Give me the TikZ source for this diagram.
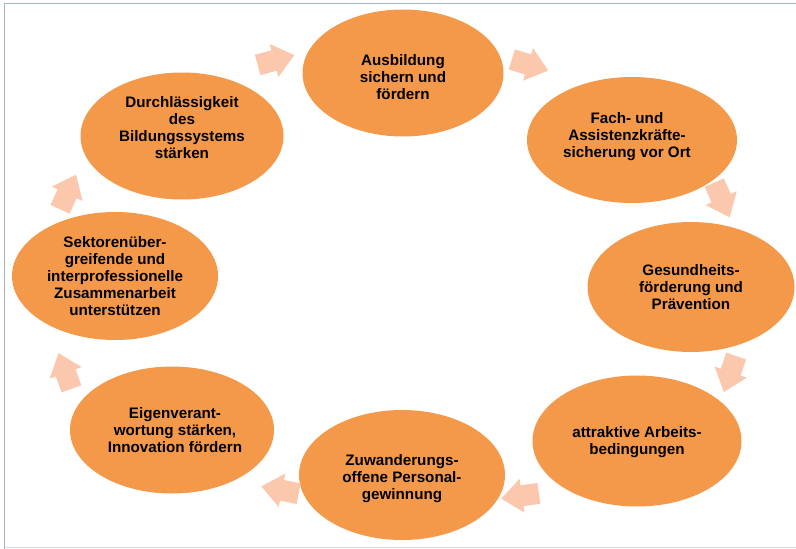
\documentclass[tikz,border=0pt]{standalone}
\usepackage{fontspec}
\setmainfont{Liberation Sans}
\usetikzlibrary{shapes.geometric}
\definecolor{orangefill}{HTML}{F4994A}
\definecolor{peach}{HTML}{FBC7AD}
\definecolor{frametop}{HTML}{A8B6C4}
\definecolor{framebot}{HTML}{D3D8DD}
\tikzset{
  ell/.style={ellipse, fill=orangefill, inner sep=0pt},
  lbl/.style={inner sep=0pt, align=center,
    font=\fontsize{15.2}{17}\selectfont\bfseries, text=black},
  cyclearrow/.style={fill=peach},
}
\newcommand{\blockarrow}[3]{%
  \fill[cyclearrow, shift={(#1,#2)}, rotate=#3]
    (-19,-10.5) -- (-2,-10.5) -- (-2,-17) -- (19,0) -- (-2,17) -- (-2,10.5) -- (-19,10.5) -- cycle;}
\begin{document}
\begin{tikzpicture}[x=1pt,y=1pt]
\useasboundingbox (0,0) rectangle (796,-549);
\fill[white] (0,0) rectangle (796,-549);
% frame
\draw[frametop, line width=1.5pt] (4.5,-549) -- (4.5,-3.5) -- (796,-3.5);
\draw[framebot, line width=1.5pt] (4.5,-547.5) -- (796,-547.5);
% ellipses
\node[ell, minimum width=201pt, minimum height=127pt] (n1) at (403,-73) {};
\node[ell, minimum width=210pt, minimum height=126pt] (n2) at (632,-140) {};
\node[ell, minimum width=207pt, minimum height=130pt] (n3) at (691,-287) {};
\node[ell, minimum width=209pt, minimum height=131pt] (n4) at (637,-441) {};
\node[ell, minimum width=206pt, minimum height=130pt] (n5) at (402,-475) {};
\node[ell, minimum width=204pt, minimum height=127pt] (n6) at (172,-430) {};
\node[ell, minimum width=206pt, minimum height=128pt] (n7) at (115,-276) {};
\node[ell, minimum width=203pt, minimum height=127pt] (n8) at (182,-136) {};
% texts
\node[lbl] (t1) at ([yshift=-4pt]n1.center) {Ausbildung\\sichern und\\fördern};
\node[lbl] (t2) at ([xshift=-5pt,yshift=3pt]n2.center) {Fach- und\\Assistenzkräfte-\\sicherung vor Ort};
\node[lbl] (t3) at (n3.center) {Gesundheits-\\förderung und\\Prävention};
\node[lbl] (t4) at ([yshift=-1pt]n4.center) {attraktive Arbeits-\\bedingungen};
\node[lbl] (t5) at ([yshift=-4pt]n5.center) {Zuwanderungs-\\offene Personal-\\gewinnung};
\node[lbl] (t6) at ([xshift=3pt]n6.center) {Eigenverant-\\wortung stärken,\\Innovation fördern};
\node[lbl] (t7) at (n7.center) {Sektorenüber-\\greifende und\\interprofessionelle\\Zusammenarbeit\\unterstützen};
\node[lbl] (t8) at ([yshift=8pt]n8.center) {Durchlässigkeit\\des\\Bildungssystems\\stärken};
% arrows
\blockarrow{276}{-60}{15}
\blockarrow{530}{-65}{-17}
\blockarrow{722}{-200}{-66}
\blockarrow{730}{-374}{-109}
\blockarrow{520}{-496}{188}
\blockarrow{280}{-490}{169}
\blockarrow{65}{-371}{110}
\blockarrow{68}{-192}{65}
\end{tikzpicture}
\end{document}
